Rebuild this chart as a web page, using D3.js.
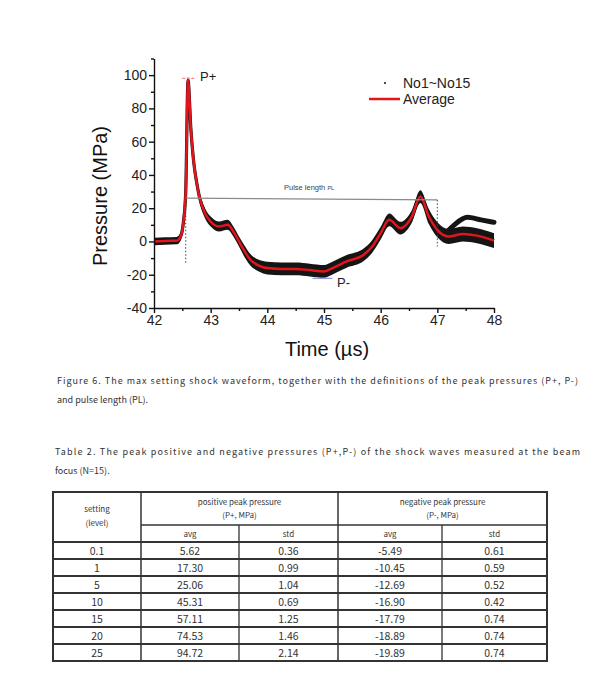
<!DOCTYPE html>
<html>
<head>
<meta charset="utf-8">
<script src="https://cdn.jsdelivr.net/npm/d3@7"></script>
<style>
  body { margin: 0; background: #fff; }
  svg text { font-family: Arial, "Liberation Sans", sans-serif; }
  .doc { font-family: "Noto Sans CJK KR", "DejaVu Sans", sans-serif; fill: #333; }
</style>
</head>
<body>
<div id="chart"></div>
<script>
// waveform (time in us, pressure in MPa)
const times = [42.00, 42.20, 42.40, 42.47, 42.52, 42.56, 42.60, 42.65, 42.70, 42.75,
  42.80, 42.90, 43.00, 43.15, 43.30, 43.40, 43.50, 43.60, 43.70, 43.85,
  44.00, 44.25, 44.50, 44.75, 45.00, 45.15, 45.40, 45.70, 45.85, 46.00,
  46.15, 46.35, 46.55, 46.70, 46.85, 47.00, 47.20, 47.45, 47.70, 48.00];
const average = [0, 0.3, 0.5, 3, 12, 30, 97, 68, 48, 36,
  27, 17, 12, 9, 10, 6, 0, -6, -11, -14.5,
  -16, -16.5, -16.5, -17.2, -18, -16, -12, -8, -3, 5,
  13, 8, 15, 27, 15, 7, 3, 4.5, 3.5, 0.5];
// upper / lower edge of the black band of the 15 single runs
const runsHigh = [2.2, 2.5, 2.7, 5.5, 15, 33, 99, 71, 51, 39,
  30, 20, 15, 12, 13, 9, 3, -2.5, -7.5, -11,
  -12.2, -12.7, -12.7, -13.4, -14.2, -12.2, -8.2, -4.2, 0.8, 8.8,
  16.8, 11.8, 18.8, 30.8, 19.5, 11.5, 7.5, 9, 8, 5];
const runsLow = [-2.2, -1.9, -1.7, 0.5, 9, 27, 95, 65, 45, 33,
  24, 14, 9, 6, 7, 3, -3, -9.5, -14.5, -18,
  -19.8, -20.3, -20.3, -21, -21.8, -19.8, -15.8, -11.8, -6.8, 1.2,
  9.2, 4.2, 11.2, 23.2, 10.5, 2.5, -1.5, 0, -1, -4];
// a few runs that separate after 47 us
const splitTimes = [47.12, 47.30, 47.53, 47.77, 48.00];
const splitValues = [4, 10, 14.5, 13, 11.5];

const xTicks = [42, 43, 44, 45, 46, 47, 48];
const xMinor = [42.5, 43.5, 44.5, 45.5, 46.5, 47.5];
const yTicks = [-40, -20, 0, 20, 40, 60, 80, 100];
const yMinor = [-30, -10, 10, 30, 50, 70, 90, 110];

// pulse length markers
const pulseStart = [42.56, 26];
const pulseEnd = [47.0, 25];
const pulseDrop = [-14, -3];
const pPlus = [42.5, 42.73, 98];
const pMinus = [44.8, 45.15, -22.2];

// table 2
const settings = ["0.1", "1", "5", "10", "15", "20", "25"];
const posAvg = ["5.62", "17.30", "25.06", "45.31", "57.11", "74.53", "94.72"];
const posStd = ["0.36", "0.99", "1.04", "0.69", "1.25", "1.46", "2.14"];
const negAvg = ["-5.49", "-10.45", "-12.69", "-16.90", "-17.79", "-18.89", "-19.89"];
const negStd = ["0.61", "0.59", "0.52", "0.42", "0.74", "0.74", "0.74"];

const svg = d3.select("#chart").append("svg")
  .attr("width", 600)
  .attr("height", 700);
svg.append("rect").attr("width", 600).attr("height", 700).attr("fill", "#fff");

const x = d3.scaleLinear().domain([42, 48]).range([154, 494]);
const y = d3.scaleLinear().domain([-40, 110]).range([308, 58.5]);

const wave = times.map((t, i) => ({ t, avg: average[i], hi: runsHigh[i], lo: runsLow[i] }));
const split = splitTimes.map((t, i) => ({ t, v: splitValues[i] }));

// black band of single runs
svg.append("path")
  .datum(wave)
  .attr("fill", "#151515")
  .attr("d", d3.area().curve(d3.curveMonotoneX)
    .x(d => x(d.t)).y0(d => y(d.lo)).y1(d => y(d.hi)));

svg.append("path")
  .datum(wave)
  .attr("fill", "none")
  .attr("stroke", "#151515")
  .attr("stroke-width", 3.2)
  .attr("stroke-linejoin", "round")
  .attr("d", d3.line().curve(d3.curveMonotoneX).x(d => x(d.t)).y(d => y(d.avg)));

svg.append("path")
  .datum(split)
  .attr("fill", "none")
  .attr("stroke", "#151515")
  .attr("stroke-width", 5)
  .attr("stroke-linecap", "round")
  .attr("d", d3.line().curve(d3.curveMonotoneX).x(d => x(d.t)).y(d => y(d.v)));

// average
svg.append("path")
  .datum(wave)
  .attr("fill", "none")
  .attr("stroke", "#e3141c")
  .attr("stroke-width", 2.5)
  .attr("stroke-linejoin", "round")
  .attr("d", d3.line().curve(d3.curveMonotoneX).x(d => x(d.t)).y(d => y(d.avg)));

// pulse length line + dotted drops
svg.append("line")
  .attr("x1", x(pulseStart[0])).attr("y1", y(pulseStart[1]))
  .attr("x2", x(pulseEnd[0])).attr("y2", y(pulseEnd[1]))
  .attr("stroke", "#8a8a8a").attr("stroke-width", 1.2);
[pulseStart, pulseEnd].forEach((p, i) => {
  svg.append("line")
    .attr("x1", x(p[0])).attr("y1", y(p[1]))
    .attr("x2", x(p[0])).attr("y2", y(pulseDrop[i]))
    .attr("stroke", "#444").attr("stroke-width", 1)
    .attr("stroke-dasharray", "1.5,2");
});
const pl = svg.append("text")
  .attr("x", 284).attr("y", 190)
  .attr("font-size", 7.5).attr("fill", "#444");
pl.append("tspan").text("Pulse length ");
pl.append("tspan").attr("font-size", 5.5).text("PL");

// peak markers
svg.append("line")
  .attr("x1", x(pPlus[0])).attr("x2", x(pPlus[1]))
  .attr("y1", y(pPlus[2])).attr("y2", y(pPlus[2]))
  .attr("stroke", "#f08a8a").attr("stroke-width", 1.3)
  .attr("stroke-dasharray", "3,1.5");
svg.append("text").attr("x", 200).attr("y", 81)
  .attr("font-size", 13).attr("fill", "#222").text("P+");
svg.append("line")
  .attr("x1", x(pMinus[0])).attr("x2", x(pMinus[1]))
  .attr("y1", y(pMinus[2])).attr("y2", y(pMinus[2]))
  .attr("stroke", "#9a9ade").attr("stroke-width", 1.3);
svg.append("text").attr("x", 337).attr("y", 287)
  .attr("font-size", 13).attr("fill", "#222").text("P-");

// axes
const axisFont = g => g.selectAll("text")
  .attr("font-size", 14).attr("fill", "#222");
const plain = d => String(d);

const gx = svg.append("g").attr("transform", "translate(0,308)")
  .call(d3.axisBottom(x).tickValues(xTicks).tickFormat(plain)
    .tickSize(5).tickSizeOuter(0).tickPadding(2));
gx.call(axisFont);
svg.append("g").attr("transform", "translate(0,308)")
  .call(d3.axisBottom(x).tickValues(xMinor).tickSize(3).tickFormat(""))
  .call(g => g.select(".domain").remove());

const gy = svg.append("g").attr("transform", "translate(154,0)")
  .call(d3.axisLeft(y).tickValues(yTicks).tickFormat(plain)
    .tickSize(5).tickSizeOuter(0).tickPadding(2));
gy.call(axisFont);
svg.append("g").attr("transform", "translate(154,0)")
  .call(d3.axisLeft(y).tickValues(yMinor).tickSize(3).tickFormat(""))
  .call(g => g.select(".domain").remove());

svg.selectAll(".domain, .tick line").attr("stroke", "#111").attr("stroke-width", 1.4);

svg.append("text")
  .attr("x", 327).attr("y", 356)
  .attr("text-anchor", "middle")
  .attr("font-size", 20).attr("fill", "#111")
  .text("Time (\u00b5s)");
svg.append("text")
  .attr("transform", "translate(107,196) rotate(-90)")
  .attr("text-anchor", "middle")
  .attr("font-size", 20).attr("fill", "#111")
  .text("Pressure (MPa)");

// legend
svg.append("circle").attr("cx", 385).attr("cy", 83).attr("r", 1).attr("fill", "#111");
svg.append("text").attr("x", 403).attr("y", 88)
  .attr("font-size", 14).attr("fill", "#222").text("No1~No15");
svg.append("line").attr("x1", 369).attr("x2", 400).attr("y1", 99).attr("y2", 99)
  .attr("stroke", "#e3141c").attr("stroke-width", 2.5);
svg.append("text").attr("x", 403).attr("y", 104)
  .attr("font-size", 14).attr("fill", "#222").text("Average");

// captions
const caption = (tx, ty, str, len) => {
  const t = svg.append("text").attr("class", "doc")
    .attr("x", tx).attr("y", ty).attr("font-size", 9).text(str);
  if (len) t.attr("textLength", len).attr("lengthAdjust", "spacing");
};
caption(57, 384, "Figure 6. The max setting shock waveform, together with the definitions of the peak pressures (P+, P-)", 521);
caption(57, 403, "and pulse length (PL).");
caption(55, 455, "Table 2. The peak positive and negative pressures (P+,P-) of the shock waves measured at the beam", 525);
caption(55, 474, "focus (N=15).");

// table
const colX = [53, 141, 239, 338, 442, 547];
const rowY = [492, 525, 542, 559, 576, 593, 610, 627, 644, 661];
const tbl = svg.append("g");
const hline = (x1, x2, yy, w) => tbl.append("line")
  .attr("x1", x1).attr("x2", x2).attr("y1", yy).attr("y2", yy)
  .attr("stroke", "#333").attr("stroke-width", w);
const vline = (xx, y1, y2, w) => tbl.append("line")
  .attr("x1", xx).attr("x2", xx).attr("y1", y1).attr("y2", y2)
  .attr("stroke", "#333").attr("stroke-width", w);

hline(colX[1], colX[5], rowY[1], 1.3);
rowY.slice(2, 9).forEach(r => hline(colX[0], colX[5], r, 1.8));
vline(colX[1], rowY[0], rowY[9], 1.5);
vline(colX[3], rowY[0], rowY[9], 1.5);
vline(colX[2], rowY[1], rowY[9], 1.3);
vline(colX[4], rowY[1], rowY[9], 1.3);
tbl.append("rect")
  .attr("x", colX[0]).attr("y", rowY[0])
  .attr("width", colX[5] - colX[0]).attr("height", rowY[9] - rowY[0])
  .attr("fill", "none").attr("stroke", "#333").attr("stroke-width", 2);

const cell = (cx, cy, str, size) => tbl.append("text").attr("class", "doc")
  .attr("x", cx).attr("y", cy).attr("text-anchor", "middle")
  .attr("font-size", size).text(str);
const mid = i => (colX[i] + colX[i + 1]) / 2;

cell(mid(0), 512, "setting", 8);
cell(mid(0), 526, "(level)", 8);
cell((colX[1] + colX[3]) / 2, 505, "positive peak pressure", 8);
cell((colX[1] + colX[3]) / 2, 518, "(P+, MPa)", 8);
cell((colX[3] + colX[5]) / 2, 505, "negative peak pressure", 8);
cell((colX[3] + colX[5]) / 2, 518, "(P-, MPa)", 8);
["avg", "std", "avg", "std"].forEach((s, i) => cell(mid(i + 1), 537, s, 8));

settings.forEach((s, i) => {
  const cy = rowY[i + 2] + 12.5;
  cell(mid(0), cy, s, 10.5);
  cell(mid(1), cy, posAvg[i], 10.5);
  cell(mid(2), cy, posStd[i], 10.5);
  cell(mid(3), cy, negAvg[i], 10.5);
  cell(mid(4), cy, negStd[i], 10.5);
});
</script>
</body>
</html>
